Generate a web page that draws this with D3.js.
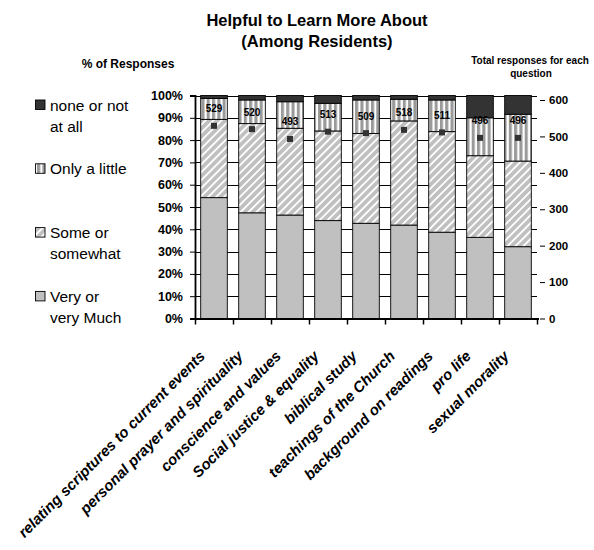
<!DOCTYPE html>
<html>
<head>
<meta charset="utf-8">
<script src="https://cdn.jsdelivr.net/npm/d3@7"></script>
<style>
  html, body { margin: 0; padding: 0; background: #ffffff; }
  svg { display: block; }
  text { font-family: "Liberation Sans", Arial, Helvetica, sans-serif; fill: #000; }
</style>
</head>
<body>
<svg id="chart" width="594" height="550"></svg>
<script>
// Topics asked about
const categories = [
  "relating scriptures to current events",
  "personal prayer and spirituality",
  "conscience and values",
  "Social justice & equality",
  "biblical study",
  "teachings of the Church",
  "background on readings",
  "pro life",
  "sexual morality"
];

// Share of responses (%) per answer group
const veryMuch   = [54.2, 47.4, 46.4, 43.9, 42.7, 41.9, 38.7, 36.4, 32.2];
const someOr     = [35.1, 40.0, 38.9, 40.2, 40.3, 46.7, 45.1, 36.6, 38.4];
const onlyLittle = [9.4, 10.6, 11.9, 12.4, 15.0, 9.7, 14.2, 17.0, 21.0];
const noneAtAll  = [1.3, 2.0, 2.8, 3.5, 2.0, 1.7, 2.0, 10.0, 8.4];

// Total responses for each question (secondary axis)
const totals = [529, 520, 493, 513, 509, 518, 511, 496, 496];

// Axis ticks
const pctTicks = [0, 10, 20, 30, 40, 50, 60, 70, 80, 90, 100];
const countTicks = [0, 100, 200, 300, 400, 500, 600];

// Series keys (bottom to top) and legend text (top to bottom)
const seriesKeys = ["very", "some", "little", "none"];
const legendKeys = ["none", "little", "some", "very"];
const legendLines = [["none or not", "at all"], ["Only a little"], ["Some or", "somewhat"], ["Very or", "very Much"]];

const rows = categories.map((c, i) => ({
  cat: c,
  very: veryMuch[i],
  some: someOr[i],
  little: onlyLittle[i],
  none: noneAtAll[i],
  total: totals[i]
}));

const svg = d3.select("#chart");
svg.append("rect").attr("width", 594).attr("height", 550).attr("fill", "#fff");

// Patterns for the two middle answer groups
const defs = svg.append("defs");
const stripes = defs.append("pattern")
  .attr("id", "vstripe").attr("patternUnits", "userSpaceOnUse")
  .attr("width", 5.3).attr("height", 10);
stripes.append("rect").attr("width", 5.3).attr("height", 10).attr("fill", "#ffffff");
stripes.append("rect").attr("width", 3.1).attr("height", 10).attr("fill", "#9a9a9a");

const hatch = defs.append("pattern")
  .attr("id", "dhatch").attr("patternUnits", "userSpaceOnUse")
  .attr("width", 5.6).attr("height", 10)
  .attr("patternTransform", "rotate(45)");
hatch.append("rect").attr("width", 5.6).attr("height", 10).attr("fill", "#c0c0c0");
hatch.append("rect").attr("width", 1.8).attr("height", 10).attr("fill", "#ffffff");

const fills = { very: "#c0c0c0", some: "url(#dhatch)", little: "url(#vstripe)", none: "#333333" };

// Plot area
const x0 = 195, x1 = 537, yBottom = 318.5, yTop = 95.5;

const x = d3.scaleBand().domain(categories).range([x0, x1]).paddingInner(0.3).paddingOuter(0.15);
const y = d3.scaleLinear().domain([0, 100]).range([yBottom, yTop]);
const yCount = d3.scaleLinear().domain([0, 600]).range([yBottom, 100]);

// Gridlines
svg.append("g").selectAll("line").data(pctTicks.filter(d => d > 0)).join("line")
  .attr("x1", x0).attr("x2", x1)
  .attr("y1", d => Math.round(y(d)) + 0.5).attr("y2", d => Math.round(y(d)) + 0.5)
  .attr("stroke", "#000").attr("stroke-width", 1);

// Stacked bars
const stack = d3.stack().keys(seriesKeys)(rows);
svg.append("g").selectAll("g").data(stack).join("g")
  .attr("fill", s => fills[s.key])
  .selectAll("rect").data(s => s).join("rect")
  .attr("x", d => x(d.data.cat))
  .attr("width", x.bandwidth())
  .attr("y", d => y(d[1]))
  .attr("height", d => y(d[0]) - y(d[1]))
  .attr("stroke", "#000").attr("stroke-width", 0.9);

// Left axis
const leftAxis = svg.append("g").attr("transform", `translate(${x0},0)`)
  .call(d3.axisLeft(y).tickValues(pctTicks).tickFormat(d => d + "%").tickSize(5).tickPadding(7));
leftAxis.select(".domain").attr("stroke-width", 1.8);
leftAxis.selectAll("text").attr("font-size", "12.5px").attr("font-weight", "bold")
  .attr("font-family", "Liberation Sans, Arial, sans-serif");

// Right axis (counts)
const rightAxis = svg.append("g").attr("transform", `translate(${x1 + 3},0)`)
  .call(d3.axisRight(yCount).tickValues(countTicks).tickSize(5).tickPadding(4));
rightAxis.select(".domain").remove();
rightAxis.selectAll("text").attr("font-size", "11.5px").attr("font-weight", "bold")
  .attr("font-family", "Liberation Sans, Arial, sans-serif");

// Bottom axis with ticks at category boundaries
const bottom = svg.append("g");
bottom.append("line").attr("x1", x0 - 1).attr("x2", x1 + 2)
  .attr("y1", yBottom + 0.5).attr("y2", yBottom + 0.5)
  .attr("stroke", "#000").attr("stroke-width", 2);
bottom.selectAll("line.tk").data(d3.range(categories.length + 1)).join("line")
  .attr("class", "tk")
  .attr("x1", i => Math.round(x0 + i * x.step()) + 0.5)
  .attr("x2", i => Math.round(x0 + i * x.step()) + 0.5)
  .attr("y1", yBottom).attr("y2", yBottom + 6)
  .attr("stroke", "#000").attr("stroke-width", 1.5);

// Category labels
svg.append("g").selectAll("text").data(categories).join("text")
  .attr("transform", d => `translate(${x(d) + x.bandwidth() / 2 - 8},357) rotate(-45)`)
  .attr("text-anchor", "end")
  .attr("font-size", "15px").attr("font-weight", "bold").attr("font-style", "italic")
  .text(d => d);

// Total-response markers and labels
const mk = svg.append("g");
mk.selectAll("rect").data(rows).join("rect")
  .attr("x", d => x(d.cat) + x.bandwidth() / 2 - 3)
  .attr("y", d => yCount(d.total) - 3)
  .attr("width", 6).attr("height", 6)
  .attr("fill", "#333333");
mk.selectAll("text").data(rows).join("text")
  .attr("x", d => x(d.cat) + x.bandwidth() / 2)
  .attr("y", d => yCount(d.total) - 13.5)
  .attr("text-anchor", "middle")
  .attr("font-size", "10px").attr("font-weight", "bold")
  .text(d => d.total);

// Titles
const title = svg.append("g").attr("font-weight", "bold").attr("text-anchor", "middle");
title.append("text").attr("x", 317).attr("y", 26).attr("font-size", "16.5px").text("Helpful to Learn More About");
title.append("text").attr("x", 317).attr("y", 47).attr("font-size", "16.5px").text("(Among Residents)");
title.append("text").attr("x", 128).attr("y", 68).attr("font-size", "12px").text("% of Responses");
title.append("text").attr("x", 530).attr("y", 64).attr("font-size", "10px").text("Total responses for each");
title.append("text").attr("x", 531).attr("y", 77).attr("font-size", "10px").text("question");

// Legend
const lg = svg.append("g");
legendKeys.forEach((k, i) => {
  const base = 110.5 + i * 63.8;
  lg.append("rect").attr("x", 35.5).attr("y", base - 10.5).attr("width", 9.5).attr("height", 9.5)
    .attr("fill", fills[k]).attr("stroke", "#000").attr("stroke-width", 0.9);
  legendLines[i].forEach((t, j) => {
    lg.append("text").attr("x", 50).attr("y", base + j * 21).attr("font-size", "15.5px").text(t);
  });
});
</script>
</body>
</html>
